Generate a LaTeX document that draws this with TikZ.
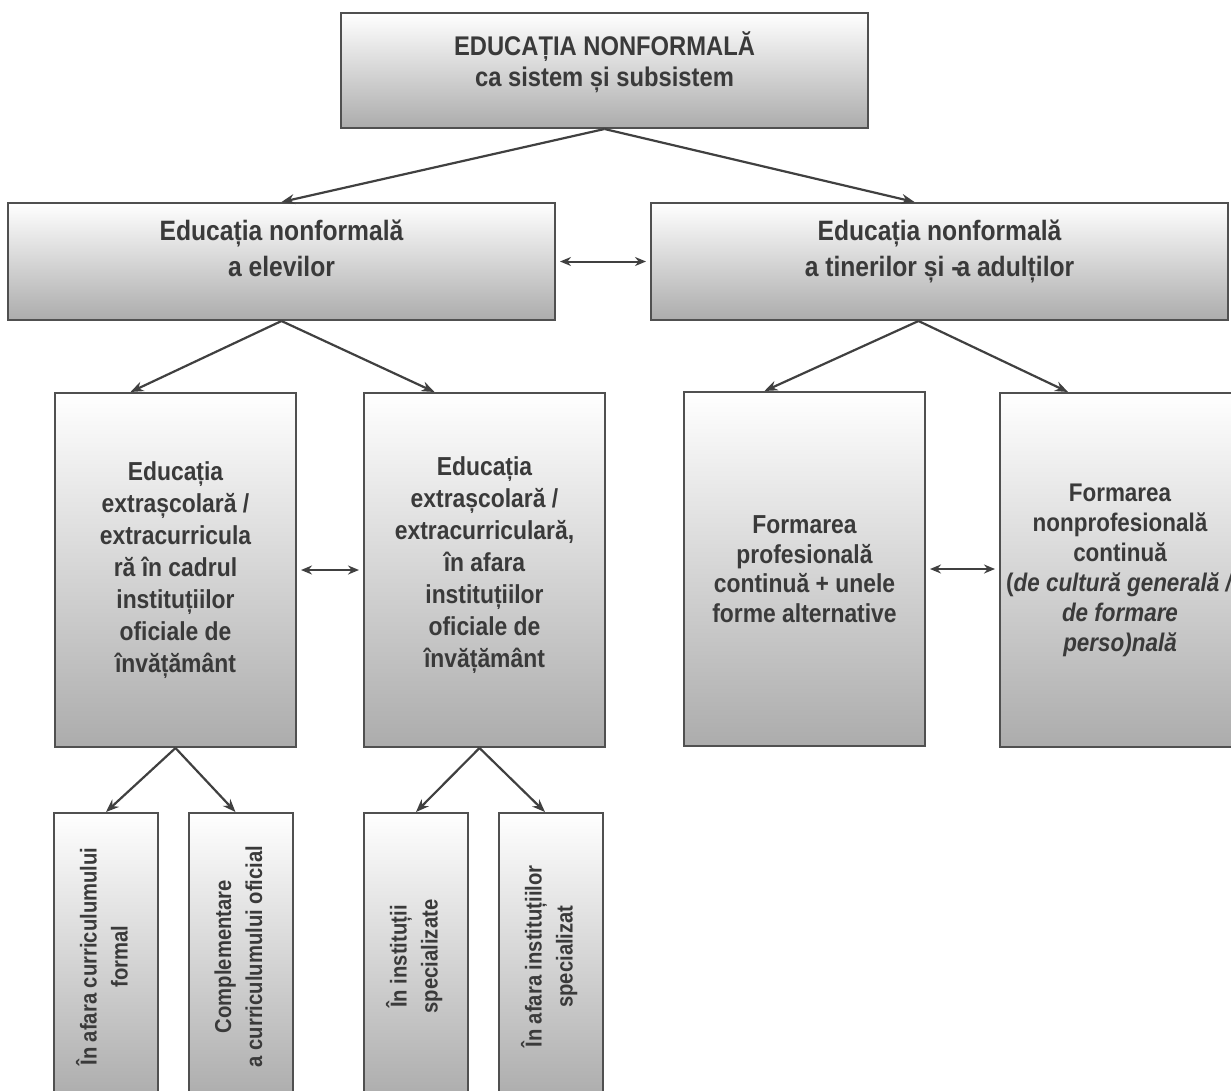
\documentclass[tikz,border=0pt]{standalone}
\usepackage{fontspec}
\setmainfont[FakeStretch=0.88]{Liberation Sans}
\usepackage{graphicx}
\usetikzlibrary{arrows.meta, positioning}

\definecolor{boxline}{RGB}{80,80,80}
\definecolor{boxbottom}{RGB}{172,172,172}
\definecolor{inktext}{RGB}{58,58,58}
\definecolor{arrowink}{RGB}{64,64,64}

% text set upright, reading bottom to top
\newcommand{\uptext}[1]{\rotatebox{90}{\begin{tabular}{@{}c@{}}#1\end{tabular}}}

\begin{document}
\begin{tikzpicture}[x=1pt, y=-1pt,
    box/.style={draw=boxline, line width=2pt, top color=white, bottom color=boxbottom,
                text=inktext, align=center, inner sep=0pt},
    headbox/.style={box, minimum height=117pt, font=\fontsize{28}{36}\selectfont\bfseries,
                    text depth=26pt},
    tallbox/.style={box, minimum width=241pt, minimum height=354pt,
                    font=\fontsize{26}{32}\selectfont\bfseries},
    slimbox/.style={box, minimum width=104pt, minimum height=287pt,
                    font=\fontsize{23}{31}\selectfont\bfseries},
    arr/.style={-{Stealth[length=13pt, width=10pt]}, line width=2.2pt, arrowink},
    both/.style={{Stealth[length=11pt, width=9pt]}-{Stealth[length=11pt, width=9pt]},
                 line width=2pt, arrowink, shorten <=4pt, shorten >=4pt}
  ]

  \useasboundingbox[fill=white] (0,0) rectangle (1231,1090);
  \clip (0,0) rectangle (1231,1090);

  % root
  \node[box, minimum width=527pt, minimum height=115pt,
        font=\fontsize{27}{31}\selectfont\bfseries, text depth=22pt] (root) at (604.5,70.5)
    {EDUCAȚIA NONFORMALĂ\\ca sistem și subsistem};

  % second level
  \node[headbox, minimum width=547pt] (pupils) at (281.5,261.5)
    {Educația nonformală\\a elevilor};
  \node[headbox, minimum width=577pt] (adults) at (939.5,261.5)
    {Educația nonformală\\a tinerilor și -\kern-3pt a adulților};

  \draw[arr] (root.south) -- (pupils.north);
  \draw[arr] (root.south) -- ([xshift=-25pt]adults.north);
  \draw[both] (pupils.east) -- (adults.west);

  % third level
  \node[tallbox] (inschool) at (175.5,570)
    {Educația\\extrașcolară /\\extracurricula\\ră în cadrul\\instituțiilor\\oficiale de\\învățământ};
  \node[tallbox, text depth=16pt] (outschool) at (484.5,570)
    {Educația\\extrașcolară /\\extracurriculară,\\în afara\\instituțiilor\\oficiale de\\învățământ};
  \node[tallbox, font=\fontsize{26}{29.5}\selectfont\bfseries] (prof) at (804.5,569)
    {Formarea\\profesională\\continuă + unele\\forme alternative};
  \node[tallbox, minimum width=240pt, font=\fontsize{25.5}{30}\selectfont\bfseries] (nonprof) at (1120,570)
    {Formarea\\nonprofesională\\continuă\\(\textit{de cultură generală /}\\\textit{de formare}\\\textit{perso)nală}};

  \draw[arr] (pupils.south) -- ([xshift=-45pt]inschool.north);
  \draw[arr] (pupils.south) -- ([xshift=-50pt]outschool.north);
  \draw[arr] ([xshift=-21pt]adults.south) -- ([xshift=-40pt]prof.north);
  \draw[arr] ([xshift=-21pt]adults.south) -- ([xshift=-52pt]nonprof.north);
  \draw[both] (inschool.east) -- (inschool.east -| outschool.west);
  \draw[both] (prof.east) -- (prof.east -| nonprof.west);

  % fourth level
  \node[slimbox] (outcurr) at (106,956.5) {\uptext{În afara curriculumului\\formal}};
  \node[slimbox] (compl) at (240.5,956.5) {\uptext{Complementare\\a curriculumului oficial}};
  \node[slimbox] (specin) at (416,956.5) {\uptext{În instituții\\specializate}};
  \node[slimbox] (specout) at (551,956.5) {\uptext{În afara instituțiilor\\specializat}};

  \draw[arr] (inschool.south) -- (outcurr.north);
  \draw[arr] (inschool.south) -- ([xshift=-5pt]compl.north);
  \draw[arr] ([xshift=-5pt]outschool.south) -- (specin.north);
  \draw[arr] ([xshift=-5pt]outschool.south) -- ([xshift=-6pt]specout.north);

\end{tikzpicture}
\end{document}
